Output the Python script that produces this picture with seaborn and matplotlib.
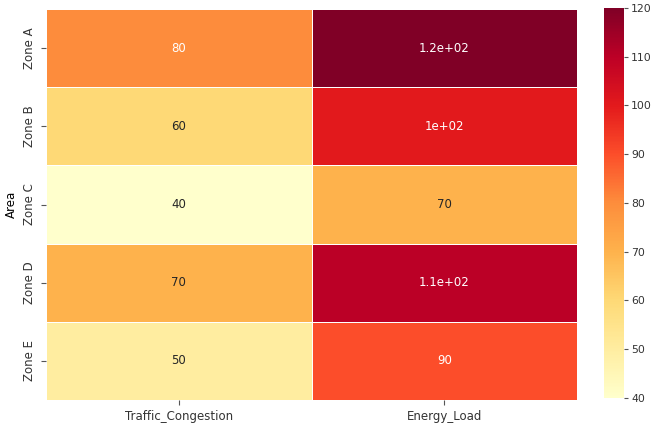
import numpy as np
import pandas as pd
import matplotlib
matplotlib.use("Agg")
import matplotlib.pyplot as plt
import seaborn as sns

areas = ["Zone A", "Zone B", "Zone C", "Zone D", "Zone E"]
traffic_congestion = [80, 60, 40, 70, 50]
energy_load = [120, 100, 70, 110, 90]

df = pd.DataFrame({"Traffic_Congestion": traffic_congestion,
                   "Energy_Load": energy_load},
                  index=pd.Index(areas, name="Area"))

fs = 8.5
fig = plt.figure(figsize=(6.53, 4.23), dpi=100)
ax = fig.add_axes([46 / 653, 23 / 423, 531 / 653, 391 / 423])
cax = fig.add_axes([604 / 653, 25 / 423, 20 / 653, 390 / 423])

sns.heatmap(df, ax=ax, cbar_ax=cax, cmap="YlOrRd", annot=True,
            linewidths=0.6, linecolor="white", vmin=40, vmax=120,
            annot_kws={"fontsize": fs})
ax.set_xlabel("")
ax.set_ylabel("Area", fontsize=fs)
ax.tick_params(axis="both", labelsize=fs, labelcolor="#333333", color="#555555")
cax.tick_params(labelsize=7.8, labelcolor="#333333", color="#555555",
                length=3, pad=2)
cax.yaxis.set_ticks([40, 50, 60, 70, 80, 90, 100, 110, 120])

fig.savefig("out.png", dpi=100)
